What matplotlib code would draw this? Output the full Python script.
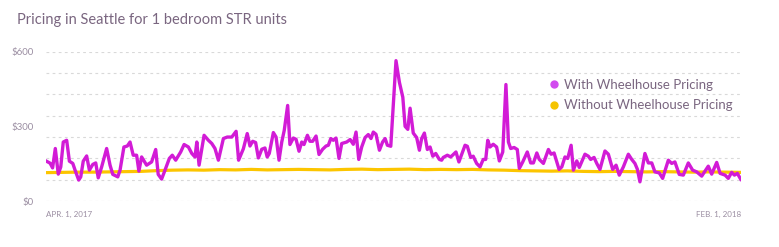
import matplotlib
matplotlib.use("Agg")
import matplotlib.pyplot as plt
from matplotlib.lines import Line2D
import numpy as np
import pandas as pd

plt.rcParams['font.family'] = ['Lato', 'DejaVu Sans']

# Data (days since Apr 1, 2017 -> nightly price in $)
start = pd.Timestamp('2017-04-01')
end = pd.Timestamp('2018-02-01')

with_days = [
    0, 1.8, 2.9, 4.1, 5.4, 6.5, 7.6, 9.1, 10.3, 11.8, 12.8, 14.4, 15.3, 16.4, 17.9, 19.1,
    20.6, 21.9, 23.0, 24.5, 26.7, 28.2, 29.4, 31.6, 32.6, 34.3, 35.8, 37.0, 38.4, 39.9,
    40.9, 42.1, 44.3, 46.5, 48.3, 49.4, 50.9, 52.4, 54.3, 55.6, 57.1, 59.3, 60.8, 62.7,
    64.2, 65.6, 66.4, 67.4, 69.6, 71.5, 73.0, 74.4, 75.9, 78.1, 79.8, 81.8, 83.7, 84.8,
    86.9, 88.6, 89.8, 91.0, 92.3, 93.5, 95.0, 96.4, 97.4, 98.3, 100.1, 101.3, 102.6,
    103.8, 104.9, 106.4, 107.4, 108.9, 110.1, 111.4, 112.6, 113.6, 115.1, 116.2, 117.4,
    118.9, 120.2, 121.8, 123.3, 124.3, 125.4, 126.5, 127.7, 129.0, 130.2, 132.4, 133.9,
    135.3, 136.5, 137.7, 139.0, 140.5, 141.9, 143.1, 144.1, 145.3, 146.8, 148.2, 149.3,
    150.3, 151.8, 154.1, 155.6, 157.1, 158.1, 159.3, 160.3, 161.7, 163.2, 164.4, 165.4,
    166.6, 167.9, 169.1, 170.3, 171.6, 173.2, 174.2, 174.9, 176.7, 178.2, 180.5, 181.8,
    184.5, 185.5, 187.0, 188.1, 189.6, 191.1, 192.5, 193.6, 194.5, 195.5, 196.9, 198.4,
    199.6, 201.1, 202.5, 203.6, 204.6, 206.1, 207.5, 208.4, 209.9, 211.9, 213.4, 214.6,
    216.1, 217.2, 219.0, 221.2, 222.4, 223.7, 225.9, 227.1, 228.5, 229.7, 231.2, 232.2,
    233.7, 234.8, 237.3, 238.8, 239.8, 241.3, 242.5, 243.9, 246.1, 247.6, 249.5, 251.0,
    252.4, 254.2, 256.4, 257.9, 259.3, 260.4, 261.5, 263.7, 265.2, 266.7, 268.1, 270.0,
    271.5, 274.0, 275.5, 276.9, 278.8, 280.6, 282.8, 284.7, 286.5, 288.7, 291.6, 293.1,
    295.3, 296.8, 299.0, 300.4, 301.9, 303.1, 304.4, 305.9,
]
with_price = [
    161, 152, 133, 211, 108, 137, 237, 244, 160, 151, 124, 84, 97, 160, 181, 124,
    147, 153, 93, 137, 211, 144, 107, 97, 124, 217, 221, 237, 184, 184,
    120, 177, 144, 157, 207, 107, 88, 124, 171, 184, 164, 197, 227, 217,
    191, 177, 237, 144, 264, 244, 231, 211, 164, 251, 257, 257, 280, 164,
    210, 271, 221, 240, 235, 173, 208, 213, 177, 191, 275, 257, 164,
    237, 284, 384, 227, 253, 248, 200, 237, 227, 264, 240, 240,
    261, 187, 208, 221, 224, 251, 244, 253, 171, 231, 237, 247,
    228, 277, 167, 217, 255, 267, 251, 277, 268, 204, 237, 251,
    224, 220, 564, 477, 417, 300, 288, 373, 273, 255, 204, 251,
    273, 207, 217, 180, 191, 167, 164, 175, 184, 177, 197, 157,
    224, 220, 175, 180, 151, 137, 167, 167, 244, 217, 228, 217,
    161, 197, 468, 237, 211, 215, 207, 131, 157, 197, 153, 153,
    193, 167, 151, 207, 188, 193, 127, 137, 177, 171, 224, 124,
    161, 135, 188, 180, 167, 175, 151, 127, 201, 188, 127, 144,
    104, 137, 188, 167, 151, 127, 77, 191, 153, 153, 117, 113,
    91, 164, 151, 157, 107, 104, 153, 124, 117, 100, 140, 108,
    155, 111, 104, 91, 115, 104, 111, 87,
]

without_price = [
    114, 115, 116, 116, 117, 118, 119, 122, 124, 125,
    124, 126, 125, 127, 125, 126, 127, 126, 125, 127,
    128, 126, 127, 128, 126, 127, 126, 127, 125, 124,
    122, 121, 120, 121, 119, 118, 119, 118, 117, 118,
    117, 116, 117, 116, 115,
]

y_ticks = [0, 300, 600]
y_labels = ['$0', '$300', '$600']
x_labels = ['APR. 1, 2017', 'FEB. 1, 2018']
series_names = ['With Wheelhouse Pricing', 'Without Wheelhouse Pricing']

purple = '#d21bd6'
yellow = '#fcc500'
text_col = '#7a6680'
tick_col = '#9b8ea2'

with_dates = start + pd.to_timedelta(with_days, unit='D')
without_dates = pd.date_range(start, end, periods=len(without_price))

fig = plt.figure(figsize=(7.79, 2.47), dpi=100)
ax = fig.add_axes([46 / 779, 1 - 201 / 247, 695 / 779, 149.3 / 247])

# dashed guide lines
for g in np.linspace(0, 600, 8):
    ax.axhline(g, color='#d9d9d9', lw=0.8, ls=(0, (2.5, 3)), zorder=0)

ax.plot(without_dates, without_price, color=yellow, lw=2.3, solid_capstyle='round', zorder=2)
ax.plot(with_dates, with_price, color=purple, lw=2.4, solid_joinstyle='round', zorder=3)

ax.set_xlim(start, end)
ax.set_ylim(0, 600)
ax.set_yticks(y_ticks)
ax.set_yticklabels(y_labels)
ax.set_xticks([start, end])
ax.set_xticklabels(x_labels)
xl = ax.get_xticklabels()
xl[0].set_ha('left')
xl[1].set_ha('right')
ax.tick_params(axis='y', length=0, pad=9, labelsize=7, labelcolor=tick_col)
ax.tick_params(axis='x', length=0, pad=7, labelsize=5.8, labelcolor=tick_col)
for s in ax.spines.values():
    s.set_visible(False)

fig.text(17 / 779, 1 - 20 / 247, 'Pricing in Seattle for 1 bedroom STR units',
         fontsize=10.5, color=text_col, va='center', ha='left')

handles = [
    Line2D([], [], marker='o', ls='', color='#d24bef', markersize=5),
    Line2D([], [], marker='o', ls='', color='#f5c400', markersize=5),
]
fig.legend(handles, series_names, loc='upper left', bbox_to_anchor=(541 / 779, 1 - 72 / 247),
           frameon=False, fontsize=9.5, labelcolor=text_col, handletextpad=0.25,
           handlelength=1.0, labelspacing=0.65, borderpad=0)

fig.savefig('out.png', dpi=100)
